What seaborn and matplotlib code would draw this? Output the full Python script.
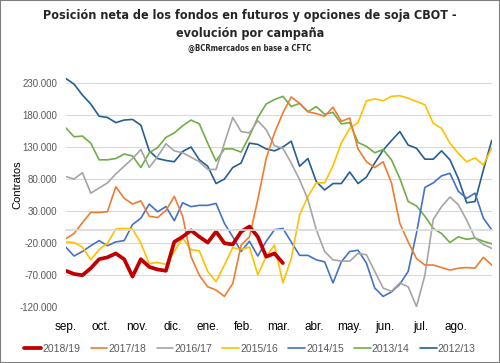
import numpy as np
import pandas as pd
import seaborn as sns
import matplotlib.pyplot as plt
from matplotlib import font_manager
from matplotlib.patches import Rectangle
from matplotlib.ticker import FuncFormatter

# posicion neta semanal (miles de contratos), semana 0 = inicio de septiembre
c2018_19 = [-63, -68, -70, -59, -45, -42, -36, -45, -72, -45, -57, -61, -63, -18, -10, 0, -10, -19, -2,
            -20, -22, -2, 6, -10, -41, -36, -51]
c2017_18 = [-13, -5, 12, 28, 28, 29, 68, 50, 41, 46, 22, 20, 31, 53, 22, -41, -70, -88, -93, -103, -83,
            -23, -10, 48, 112, 152, 183, 208, 198, 185, 182, 178, 192, 170, 175, 127, 107, 98, 107, 74,
            11, -18, -44, -54, -54, -58, -62, -59, -58, -59, -42, -54]
c2016_17 = [84, 80, 90, 58, 66, 74, 88, 100, 112, 126, 98, 115, 135, 124, 121, 114, 107, 95, 95, 136,
            176, 154, 152, 171, 157, 132, 128, 105, 79, 48, 1, -33, -46, -48, -48, -36, -38, -64, -90,
            -95, -82, -88, -119, -70, 17, 37, 52, 40, 16, -12, -22, -28]
c2015_16 = [-18, -19, -26, -46, -30, -20, 2, 3, 2, -20, -52, -50, -53, -33, -12, -30, -32, -64, -80,
            -54, -27, -30, -26, -69, -41, -23, -82, -44, 24, 53, 74, 74, 101, 136, 159, 168, 202, 205,
            202, 209, 210, 206, 201, 196, 167, 159, 136, 120, 107, 113, 102, 128]
c2014_15 = [-26, -40, -33, -24, -16, -24, -18, -16, 9, 19, 41, 29, 37, 15, 43, 37, 39, 39, 42, 11, -10,
            -33, -17, -40, -17, 1, 3, -18, -39, -39, -46, -49, -82, -49, -33, -31, -51, -90, -103, -96,
            -84, -64, -4, 67, 74, 85, 89, 61, 50, 58, 19, 1]
c2013_14 = [160, 146, 147, 136, 110, 110, 112, 119, 116, 98, 121, 129, 145, 152, 163, 172, 166, 136,
            108, 127, 127, 122, 147, 176, 197, 204, 209, 193, 198, 185, 193, 181, 184, 166, 168, 137,
            131, 121, 126, 110, 81, 45, 38, 22, 3, -5, -19, -10, -14, -12, -17, -21]
c2012_13 = [237, 228, 211, 197, 178, 176, 168, 172, 173, 164, 124, 112, 109, 107, 123, 130, 110, 100,
            73, 80, 98, 105, 136, 134, 127, 124, 130, 139, 100, 112, 76, 63, 73, 73, 91, 73, 83, 105,
            125, 140, 154, 133, 128, 111, 111, 124, 110, 81, 43, 45, 94, 140]

campanas = ['2018/19', '2017/18', '2016/17', '2015/16', '2014/15', '2013/14', '2012/13']
series = [c2018_19, c2017_18, c2016_17, c2015_16, c2014_15, c2013_14, c2012_13]
colores = ['#C00000', '#ED7D31', '#A5A5A5', '#FFC000', '#4472C4', '#70AD47', '#255E91']
meses = ['sep.', 'oct.', 'nov.', 'dic.', 'ene.', 'feb.', 'mar.', 'abr.', 'may.', 'jun.', 'jul.', 'ago.']

rows = []
for camp, vals in zip(campanas, series):
    for i, v in enumerate(vals):
        rows.append({'semana': i, 'contratos': v * 1000, 'campana': camp})
df = pd.DataFrame(rows)

sns.set_theme(style='white')
plt.rcParams['font.family'] = ['Liberation Sans', 'DejaVu Sans']

# fuente angosta para el titulo, segun lo que haya instalado
fuentes = font_manager.fontManager.ttflist
nombres = {f.name for f in fuentes}
if 'Liberation Sans Narrow' in nombres:
    titulo_kw = dict(family=['Liberation Sans Narrow', 'DejaVu Sans'], fontsize=10.5)
elif any(f.name == 'DejaVu Sans' and f.stretch == 'condensed' for f in fuentes):
    titulo_kw = dict(family=['DejaVu Sans'], fontstretch='condensed', fontsize=9)
else:
    titulo_kw = dict(family=['Liberation Sans', 'DejaVu Sans'], fontsize=9.3)

fig = plt.figure(figsize=(5, 3.63), dpi=100)
ax = fig.add_axes([0.1314, 0.1534, 0.852, 0.636])

# dibujar 2012/13 primero y 2018/19 arriba
for camp, col in reversed(list(zip(campanas, colores))):
    lw = 2.7 if camp == '2018/19' else 1.2
    sns.lineplot(data=df[df.campana == camp], x='semana', y='contratos', color=col,
                 linewidth=lw, ax=ax, label=camp)

ax.set_xlim(0, 51)
ax.set_ylim(-120000, 240000)
ax.set_yticks(np.arange(-120000, 230001, 50000))
ax.yaxis.set_major_formatter(FuncFormatter(lambda v, p: f'{v:,.0f}'.replace(',', '.')))
ax.yaxis.grid(True, color='#D9D9D9', linewidth=0.8)
ax.tick_params(axis='y', labelsize=7, colors='#595959', length=0, pad=6)
ax.set_xlabel('')
ax.set_ylabel('')

for s in ['top', 'right', 'left']:
    ax.spines[s].set_visible(False)
ax.spines['bottom'].set_position(('data', 0))
ax.spines['bottom'].set_color('#D9D9D9')

month_pos = np.arange(12) * 51 / 12
ax.set_xticks(month_pos)
ax.tick_params(axis='x', direction='out', length=4, color='#D9D9D9', labelbottom=False)

sec = ax.secondary_xaxis(0)
sec.set_xticks(month_pos, meses)
sec.tick_params(length=0, pad=10, labelsize=8.5, colors='#000000')
sec.spines['bottom'].set_visible(False)

fig.text(0.034, 0.49, 'Contratos', rotation=90, ha='center', va='center', fontsize=8, color='#000000')

fig.text(0.5, 1 - 15 / 363, 'Posición neta de los fondos en futuros y opciones de soja CBOT -',
         ha='center', va='center', fontweight='bold', **titulo_kw)
fig.text(0.5, 1 - 33 / 363, 'evolución por campaña', ha='center', va='center',
         fontweight='bold', **titulo_kw)
sub_kw = dict(titulo_kw)
sub_kw['fontsize'] = titulo_kw['fontsize'] * 0.62
fig.text(0.5, 1 - 48 / 363, '@BCRmercados en base a CFTC', ha='center', va='center',
         fontweight='bold', **sub_kw)

handles, labels = ax.get_legend_handles_labels()
orden = [labels.index(c) for c in campanas]
ax.get_legend().remove()
leg = fig.legend([handles[i] for i in orden], [labels[i] for i in orden], loc='center',
                 bbox_to_anchor=(0.5, 1 - 349 / 363), ncol=7, frameon=False, fontsize=7.5,
                 handlelength=1.6, handletextpad=0.1, columnspacing=1.0)
for t in leg.get_texts():
    t.set_color('#595959')

fig.patches.append(Rectangle((0, 0), 1, 1, transform=fig.transFigure, fill=False,
                             edgecolor='#7F7F7F', linewidth=1.5))

fig.savefig('out.png', dpi=100)
